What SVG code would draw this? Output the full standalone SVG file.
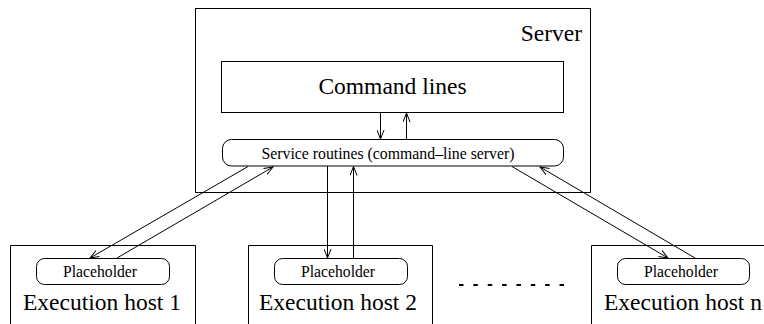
<svg xmlns="http://www.w3.org/2000/svg" width="764" height="324" viewBox="0 0 764 324">
<style>
.box{fill:none;stroke:#000;stroke-width:1}
.t{font-family:"Liberation Serif","Times New Roman",serif;fill:#000}
.big{font-size:23.5px}
.small{font-size:15.7px}
.c{stroke:#000;stroke-width:1;fill:none}
</style>
<defs>
<marker id="ah" markerWidth="10" markerHeight="8" refX="9" refY="4" orient="auto" markerUnits="userSpaceOnUse">
<path d="M0,0.5 L9,4 L0,7.5" fill="none" stroke="#000" stroke-width="1"/>
</marker>
</defs>
<rect width="764" height="324" fill="#fff"/>
<g id="server">
<rect class="box" x="195.5" y="8.5" width="395" height="184"/>
<text class="t big" x="582" y="41" text-anchor="end">Server</text>
</g>
<g id="command-lines">
<rect class="box" x="221.5" y="61.5" width="342" height="51"/>
<text class="t big" x="392.5" y="94" text-anchor="middle">Command lines</text>
</g>
<g id="service-routines">
<rect class="box" x="222.5" y="139.5" width="341" height="26.5" rx="9" ry="9"/>
<text class="t" font-size="15.8" x="388" y="159" text-anchor="middle">Service routines (command–line server)</text>
</g>
<g id="host1">
<path class="box" d="M10.5,324 V245.5 H195.5 V324"/>
<rect class="box" x="36.5" y="258.5" width="133" height="26" rx="8" ry="8"/>
<text class="t small" x="100" y="277" text-anchor="middle">Placeholder</text>
<text class="t big" x="102" y="310" text-anchor="middle">Execution host 1</text>
</g>
<g id="host2">
<path class="box" d="M248.5,324 V245.5 H432.5 V324"/>
<rect class="box" x="274.5" y="258.5" width="133" height="26" rx="8" ry="8"/>
<text class="t small" x="338" y="277" text-anchor="middle">Placeholder</text>
<text class="t big" x="338" y="310" text-anchor="middle">Execution host 2</text>
</g>
<g id="ellipsis">
<line x1="459" y1="285" x2="564" y2="285" stroke="#000" stroke-width="2" stroke-dasharray="4.5 9.86"/>
</g>
<g id="hostn">
<path class="box" d="M591.5,324 V245.5 H764"/>
<rect class="box" x="617.5" y="258.5" width="132" height="26" rx="8" ry="8"/>
<text class="t small" x="681" y="277" text-anchor="middle">Placeholder</text>
<text class="t big" x="683" y="310" text-anchor="middle">Execution host n</text>
</g>
<g id="connectors">
<line class="c" x1="380.5" y1="113" x2="380.5" y2="139" marker-end="url(#ah)"/>
<line class="c" x1="406.5" y1="139" x2="406.5" y2="113" marker-end="url(#ah)"/>
<line class="c" x1="248" y1="166.5" x2="90" y2="258" marker-end="url(#ah)"/>
<line class="c" x1="117" y1="258" x2="273" y2="167" marker-end="url(#ah)"/>
<line class="c" x1="327.5" y1="166" x2="327.5" y2="258" marker-end="url(#ah)"/>
<line class="c" x1="353.5" y1="258" x2="353.5" y2="166.5" marker-end="url(#ah)"/>
<line class="c" x1="512" y1="166.5" x2="668" y2="258" marker-end="url(#ah)"/>
<line class="c" x1="695" y1="258" x2="540" y2="167" marker-end="url(#ah)"/>
</g>
</svg>
